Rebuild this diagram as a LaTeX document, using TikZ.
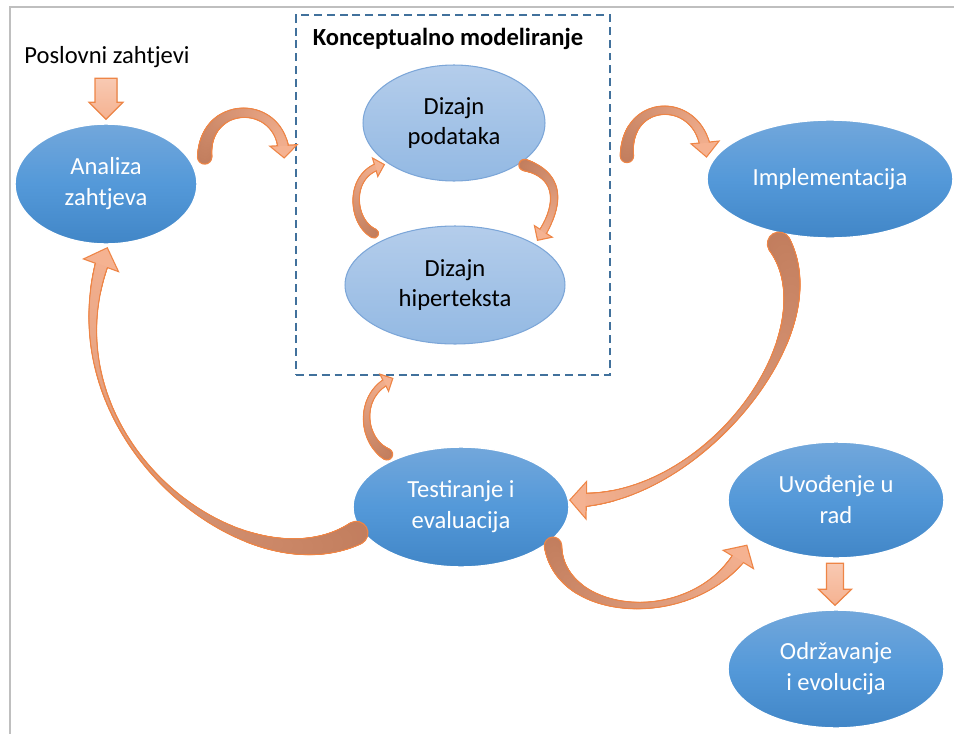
\documentclass[tikz,border=0pt]{standalone}
\usepackage{fontspec}
\setmainfont{Carlito}
\usepackage{tikz}
\usetikzlibrary{shapes.geometric, decorations.markings}

\definecolor{elltop}{HTML}{72A7DB}
\definecolor{ellmid}{HTML}{5499D9}
\definecolor{ellbot}{HTML}{4186C7}
\definecolor{palltop}{HTML}{B4CDEB}
\definecolor{pallbot}{HTML}{93B9E3}
\definecolor{pallline}{HTML}{7CA6D8}
\definecolor{boxline}{HTML}{41719C}
\definecolor{arrowdark}{HTML}{C27E5E}
\definecolor{arrowlight}{HTML}{F5B291}
\definecolor{arrowline}{HTML}{EE8546}
\definecolor{framegray}{HTML}{BFBFBF}

% one piece of a curved band: half widths at tail, middle, head (px), outline extra (pt)
\newcommand\bandpiece[4]{%
  \pgfmathsetmacro\bt{\pgfkeysvalueof{/pgf/decoration/mark info/distance from start}/\pgfdecoratedpathlength}%
  \pgfmathsetmacro\br{0.569*(#1*2*(\bt-0.5)*(\bt-1)-#2*4*\bt*(\bt-1)+#3*2*\bt*(\bt-0.5))}%
  \ifdim#4pt>0pt
    \fill[arrowline] (0pt,0pt) circle ({\br pt+#4pt});
  \else
    \pgfmathtruncatemacro\bp{min(100,max(0,100*\bt))}%
    \fill[arrowlight!\bp!arrowdark] (0pt,0pt) circle (\br pt);
  \fi}
% head of a curved band, placed 2pt before the end: half width, length (px), outline extra (pt)
\newcommand\headpiece[3]{%
  \ifdim#3pt>0pt
    \filldraw[arrowline, line width=1.4pt, line join=miter] (2pt,0pt) -- ({2pt-#2*0.569pt},{#1*0.569pt}) -- ({2pt-#2*0.569pt},{-#1*0.569pt}) -- cycle;
  \else
    \fill[arrowlight] (2pt,0pt) -- ({2pt-#2*0.569pt},{#1*0.569pt}) -- ({2pt-#2*0.569pt},{-#1*0.569pt}) -- cycle;
  \fi}

\tikzset{
  phase/.style={ellipse, inner sep=0pt, align=center, text=white,
    top color=elltop, bottom color=ellbot, middle color=ellmid, draw=white, line width=0.8pt},
  subphase/.style={ellipse, inner sep=0pt, align=center, text=black,
    top color=palltop, bottom color=pallbot, draw=pallline, line width=0.6pt},
  pics/downblock/.style n args={4}{code={
    \filldraw[top color=arrowlight!70!white, bottom color=arrowlight, draw=arrowline, line width=0.7pt]
      (-#1,0) -- (-#1,#3) -- (-#2,#3) -- (0,#4) -- (#2,#3) -- (#1,#3) -- (#1,0) -- cycle;}},
  bandarrow/.style n args={5}{
    postaction={decorate, decoration={markings,
      mark=between positions 0 and -#5*0.569pt step 0.4pt with {\bandpiece{#1}{#2}{#3}{0.7}}}},
    postaction={decorate, decoration={markings,
      mark=at position -2pt with {\headpiece{#4}{#5}{0.7}}}},
    postaction={decorate, decoration={markings,
      mark=between positions 0 and -#5*0.569pt step 0.4pt with {\bandpiece{#1}{#2}{#3}{0}}}},
    postaction={decorate, decoration={markings,
      mark=at position -2pt with {\headpiece{#4}{#5}{0}}}}}
}

\begin{document}
\begin{tikzpicture}[x=0.02cm, y=-0.02cm, font=\fontsize{14}{17.6}\selectfont]
  \useasboundingbox (0,0) rectangle (954,734);
  \draw[framegray, line width=1.2pt] (954,7) -- (10,7) -- (10,734);

  \node[draw=boxline, dashed, dash pattern=on 4.5pt off 2.8pt, line width=1.1pt,
        minimum width=6.28cm, minimum height=7.2cm] (km) at (453,195) {};
  \node[font=\fontsize{14}{17.6}\selectfont\bfseries] (kmt) at (448,39) {Konceptualno modeliranje};

  \node (poz) at (107,57) {Poslovni zahtjevi};
  \node[phase, minimum width=3.64cm, minimum height=2.4cm] (an) at (106,184) {Analiza\\zahtjeva};
  \node[subphase, minimum width=3.64cm, minimum height=2.32cm] (dp) at (454,123) {Dizajn\\podataka};
  \node[subphase, minimum width=4.4cm, minimum height=2.36cm] (dh) at (455,285) {Dizajn\\hiperteksta};
  \node[phase, minimum width=4.92cm, minimum height=2.36cm] (im) at (830,179) {Implementacija};
  \node[phase, minimum width=4.32cm, minimum height=2.4cm] (te) at (461,507) {Testiranje i\\evaluacija};
  \node[phase, minimum width=4.32cm, minimum height=2.32cm] (uv) at (836,500) {Uvođenje u\\rad};
  \node[phase, minimum width=4.32cm, minimum height=2.36cm] (od) at (836,669) {Održavanje\\i evolucija};

  \pic (pa) at ([shift={(0,-45)}]an.north) {downblock={11}{17}{24}{41}};
  \pic (ua) at ([shift={(-1,-46)}]od.north) {downblock={8.5}{16.5}{26}{42}};

  \path[bandarrow={6.5}{4}{5}{12}{11}] ([shift={(7,-27)}]an.east)
    .. controls +(-1,-59) and +(0,-59) .. ([shift={(-11,-38)}]km.west);
  \path[bandarrow={6}{3.5}{5}{12.5}{13}] ([shift={(16,-39)}]km.east)
    .. controls +(-2,-61) and +(-3,-61) .. ([shift={(0,-23)}]im.west);
  \path[bandarrow={4}{2.5}{3}{8}{8}] ([shift={(-81,8)}]dh.north)
    .. controls +(-24,-12) and +(-36,7) .. ([shift={(21,42)}]dp.west);
  \path[bandarrow={5}{3}{3.5}{9}{9}] ([shift={(-21,42)}]dp.east)
    .. controls +(36,10) and +(24,-35) .. ([shift={(83,14)}]dh.north);
  \path[bandarrow={5}{2.5}{3}{8}{8}] ([shift={(-74,8)}]te.north)
    .. controls +(-27,-15) and +(-34,14) .. ([shift={(-61,3)}]km.south);
  \path[bandarrow={11}{2}{7}{17}{15}] ([shift={(-51,5)}]im.south)
    .. controls +(55,90) and +(130,5) .. ([shift={(1,-7)}]te.east);
  \path[bandarrow={11}{1.2}{7}{17}{17}] ([shift={(4,26)}]te.west)
    .. controls +(-112,62) and +(-70,185) .. ([shift={(1,4)}]an.south);
  \path[bandarrow={8}{2.5}{7}{16}{15}] ([shift={(92,-22)}]te.south)
    .. controls +(7,75) and +(-47,84) .. ([shift={(19,46)}]uv.west);
\end{tikzpicture}
\end{document}
